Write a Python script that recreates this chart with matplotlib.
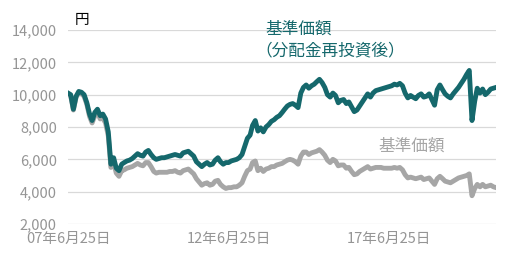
import matplotlib
matplotlib.use("Agg")
import matplotlib.pyplot as plt
import pandas as pd

plt.rcParams["font.family"] = ["Noto Sans CJK JP", "DejaVu Sans"]

# monthly values, starting 2007-06-25
reinvested = [
    10100, 10000, 9100, 9900, 10200, 10150, 10000, 9500, 8800, 8400,
    8900, 9100, 8700, 8800, 8500, 7700, 5700, 6100, 5450, 5300,
    5700, 5800, 5900, 5950, 6050, 6200, 6350, 6250, 6200, 6450,
    6550, 6300, 6100, 6000, 6050, 6100, 6100, 6150, 6200, 6250,
    6300, 6250, 6200, 6400, 6450, 6500, 6350, 6200, 5850, 5700,
    5550, 5700, 5800, 5650, 5700, 5950, 6100, 5850, 5700, 5800,
    5800, 5900, 5950, 6000, 6100, 6300, 6800, 7300, 7500, 8100,
    8400, 7750, 7950, 7700, 8000, 8150, 8350, 8450, 8600, 8700,
    8900, 9100, 9300, 9400, 9450, 9350, 9200, 10100, 10450, 10600,
    10400, 10550, 10650, 10800, 10950, 10750, 10450, 10000, 9850, 10100,
    9950, 9500, 9650, 9700, 9450, 9550, 9250, 8950, 9050, 9300,
    9550, 9800, 10050, 9850, 10100, 10250, 10300, 10350, 10400, 10450,
    10500, 10550, 10650, 10600, 10700, 10550, 10100, 9800, 9950, 9850,
    9750, 9950, 10050, 9850, 9900, 10050, 9700, 9350, 10300, 10600,
    10300, 10050, 9900, 9800, 10050, 10250, 10450, 10700, 10950, 11250,
    11500, 8400, 9600, 10400, 10100, 10350, 10000, 10150, 10350, 10400,
    10450,
]
nav = [
    10050, 9950, 9050, 9850, 10100, 10050, 9900, 9400, 8650, 8250,
    8700, 8900, 8500, 8550, 8250, 7450, 5500, 5800, 5150, 4950,
    5300, 5350, 5450, 5500, 5550, 5650, 5750, 5650, 5600, 5800,
    5800, 5550, 5250, 5150, 5200, 5200, 5200, 5200, 5250, 5250,
    5300, 5200, 5150, 5300, 5350, 5400, 5250, 5100, 4800, 4600,
    4400, 4500, 4550, 4400, 4450, 4650, 4700, 4450, 4300, 4200,
    4250, 4250, 4300, 4300, 4400, 4550, 4950, 5300, 5400, 5800,
    5900, 5300, 5450, 5250, 5400, 5450, 5550, 5550, 5650, 5700,
    5750, 5850, 5950, 6000, 5950, 5850, 5700, 6200, 6450, 6450,
    6300, 6400, 6450, 6500, 6600, 6450, 6250, 5950, 5800, 6000,
    5900, 5600, 5650, 5650, 5450, 5500, 5250, 5050, 5100, 5250,
    5350, 5450, 5550, 5400, 5450, 5500, 5500, 5500, 5450, 5450,
    5450, 5450, 5500, 5450, 5500, 5350, 5050, 4850, 4900, 4850,
    4800, 4850, 4900, 4750, 4800, 4850, 4650, 4450, 4800, 4950,
    4800, 4650, 4600, 4550, 4650, 4750, 4850, 4900, 4950, 5000,
    5100, 3750, 4200, 4450, 4300, 4450, 4300, 4350, 4400, 4300,
    4250,
]
tick_dates = ["2007-06-25", "2012-06-25", "2017-06-25"]
yticks = [2000, 4000, 6000, 8000, 10000, 12000, 14000]

dates = pd.date_range("2007-06-25", periods=len(nav), freq=pd.DateOffset(months=1))

TEAL = "#15686c"
GREY = "#a6a6a6"
TICK = "#959595"

fig = plt.figure(figsize=(5.13, 2.64), dpi=100)
ax = fig.add_axes([0.1326, 0.1515, 0.8344, 0.7348])

ax.plot(dates, nav, color=GREY, lw=3.5, solid_joinstyle="round")
ax.plot(dates, reinvested, color=TEAL, lw=3.5, solid_joinstyle="round")

ax.set_xlim(dates[0], dates[-1])
ax.set_ylim(2000, 14000)
ax.set_yticks(yticks)
ax.set_yticklabels([f"{v:,}" for v in yticks])
tds = pd.to_datetime(tick_dates)
ax.set_xticks(tds)
ax.set_xticklabels([f"{d.year % 100:02d}年{d.month}月{d.day}日" for d in tds])

ax.grid(axis="y", color="#d9d9d9", lw=0.9)
ax.set_axisbelow(True)
for s in ax.spines.values():
    s.set_visible(False)
ax.tick_params(axis="both", length=0, labelsize=10.5, colors=TICK)
ax.tick_params(axis="y", pad=8)
ax.tick_params(axis="x", pad=6)

fig.text(75 / 513, 1 - 20 / 264, "円", fontsize=10.5, color="black", va="center")
fig.text(265 / 513, 1 - 29 / 264, "基準価額", fontsize=12, color=TEAL, va="center")
fig.text(255 / 513, 1 - 51 / 264, "（分配金再投資後）", fontsize=12, color=TEAL, va="center")
fig.text(378 / 513, 1 - 146 / 264, "基準価額", fontsize=12, color=GREY, va="center")

fig.savefig("out.png", dpi=100)
